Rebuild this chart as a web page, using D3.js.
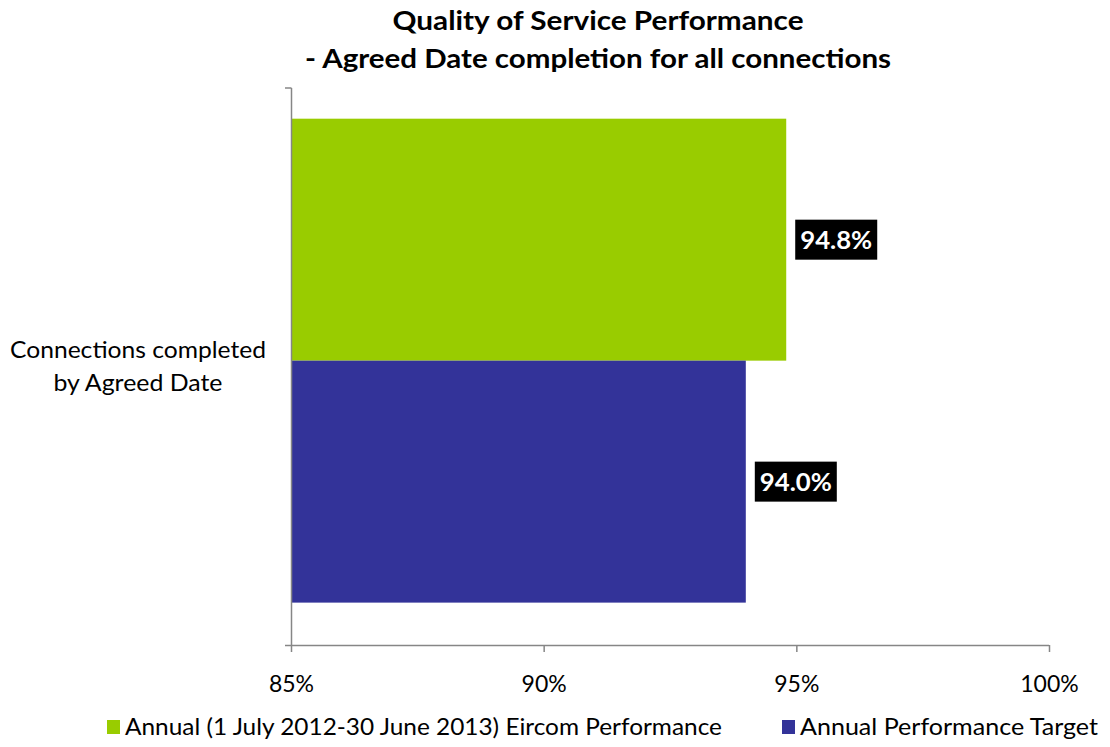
<!DOCTYPE html>
<html><head><meta charset="utf-8">
<script src="https://cdn.jsdelivr.net/npm/d3@7"></script>
<style>body{margin:0;background:#fff}svg{display:block}</style>
</head><body>
<svg id="c" width="1110" height="747"></svg>
<script>
const categories = ["Connections completed by Agreed Date"];
const categoryLines = [["Connections completed", "by Agreed Date"]];
const seriesNames = ["Annual (1 July 2012-30 June 2013) Eircom Performance", "Annual Performance Target"];
const seriesColors = ["#99CC00", "#333399"];
const seriesValues = [[94.8], [94.0]];
const xTicks = [85, 90, 95, 100];
const titleLines = ["Quality of Service Performance", "- Agreed Date completion for all connections"];

const svg = d3.select("#c");
const font = "Lato, 'Open Sans', sans-serif";
const plot = {left: 291, right: 1049, top: 88, bottom: 645};

const x = d3.scaleLinear().domain([85, 100]).range([plot.left, plot.right]);
const y0 = d3.scaleBand().domain(categories).range([plot.top, plot.bottom]);
const y1 = d3.scaleBand().domain(seriesNames).range([0, y0.bandwidth()]).paddingInner(0).paddingOuter(0.151).align(0.42);

function fitText(sel, w) {
  sel.each(function() {
    const n = this.getComputedTextLength();
    if (w) { this.setAttribute("textLength", w); this.setAttribute("lengthAdjust", "spacingAndGlyphs"); }
  });
}

// title
const titleW = [411, 586];
svg.append("g").selectAll("text").data(titleLines).join("text")
  .attr("x", 598).attr("y", (d, i) => 30 + i * 38)
  .attr("text-anchor", "middle").attr("font-family", font).attr("font-weight", "bold")
  .attr("font-size", 27).attr("fill", "#000").text(d => d)
  .attr("textLength", (d, i) => titleW[i]).attr("lengthAdjust", "spacingAndGlyphs");

// bars
const gBars = svg.append("g");
categories.forEach((c, ci) => {
  seriesNames.forEach((s, si) => {
    const v = seriesValues[si][ci];
    const yy = y0(c) + y1(s);
    gBars.append("rect").attr("x", x(85)).attr("y", yy)
      .attr("width", x(v) - x(85)).attr("height", y1.bandwidth())
      .attr("fill", seriesColors[si]);
  });
});

// axes
const xAxis = d3.axisBottom(x).tickValues(xTicks).tickFormat(d => d + "%").tickSize(7).tickSizeOuter(0);
const gx = svg.append("g").attr("transform", `translate(0,${plot.bottom})`).call(xAxis);
gx.select(".domain").attr("stroke", "#868686").attr("stroke-width", 1.5).attr("d", `M${plot.left - 6},0.5H${plot.right}`);
gx.selectAll(".tick line").attr("stroke", "#868686").attr("stroke-width", 1.5);
gx.selectAll(".tick text").attr("font-family", font).attr("font-size", 23).attr("fill", "#000").attr("dy", 0).attr("y", 47);

const gy = svg.append("g").attr("transform", `translate(${plot.left},0)`);
gy.append("line").attr("x1", 0.5).attr("x2", 0.5).attr("y1", plot.top).attr("y2", plot.bottom).attr("stroke", "#868686").attr("stroke-width", 1.5);
gy.append("line").attr("x1", -6).attr("x2", 0.5).attr("y1", plot.top).attr("y2", plot.top).attr("stroke", "#868686").attr("stroke-width", 1.5);

// category label
const catW = [256, 169];
categories.forEach((c, ci) => {
  const cy = y0(c) + y0.bandwidth() / 2;
  svg.append("g").selectAll("text").data(categoryLines[ci]).join("text")
    .attr("x", 138).attr("y", (d, i) => cy - 9 + i * 33)
    .attr("text-anchor", "middle").attr("font-family", font).attr("font-size", 24).attr("fill", "#000").text(d => d)
    .attr("textLength", (d, i) => catW[i]).attr("lengthAdjust", "spacingAndGlyphs");
});

// data labels
categories.forEach((c, ci) => {
  seriesNames.forEach((s, si) => {
    const v = seriesValues[si][ci];
    const cy = y0(c) + y1(s) + y1.bandwidth() / 2;
    const lx = x(v) + 9;
    const g = svg.append("g");
    g.append("rect").attr("x", lx).attr("y", cy - 20).attr("width", 82).attr("height", 40).attr("fill", "#000");
    g.append("text").attr("x", lx + 41).attr("y", cy + 9)
      .attr("text-anchor", "middle").attr("font-family", font).attr("font-weight", "bold")
      .attr("font-size", 24).attr("fill", "#fff").text(v.toFixed(1) + "%")
      .attr("textLength", 72).attr("lengthAdjust", "spacingAndGlyphs");
  });
});

// legend
const legendX = [107, 782];
const legendW = [597, 298];
const lg = svg.append("g");
seriesNames.forEach((s, si) => {
  lg.append("rect").attr("x", legendX[si]).attr("y", 720).attr("width", 13).attr("height", 14).attr("fill", seriesColors[si]);
  lg.append("text").attr("x", legendX[si] + 18).attr("y", 735).attr("font-family", font)
    .attr("font-size", 24).attr("fill", "#000").text(s)
    .attr("textLength", legendW[si]).attr("lengthAdjust", "spacingAndGlyphs");
});
</script>
</body></html>
